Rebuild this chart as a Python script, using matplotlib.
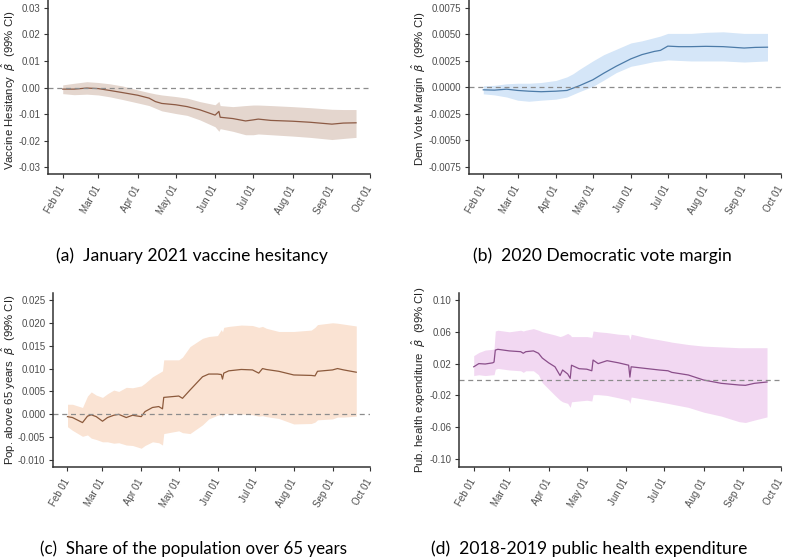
import matplotlib
matplotlib.use("Agg")
import matplotlib.pyplot as plt
import matplotlib.dates as mdates
import numpy as np

# ---- panel (a) vaccine hesitancy ----
dates_a = ["02-01", "02-10", "02-20", "03-01", "03-10", "03-20", "04-01", "04-10",
           "04-15", "04-20", "05-01", "05-10", "05-20", "06-01", "06-04", "06-05",
           "06-15", "06-25", "07-01", "07-05", "07-15", "08-01", "08-15", "09-01",
           "09-10", "09-20"]
est_a = [-0.0006, -0.0006, -0.0002, -0.0004, -0.0011, -0.0019, -0.0029, -0.0040,
         -0.0053, -0.0060, -0.0065, -0.0072, -0.0084, -0.0104, -0.0090, -0.0112,
         -0.0117, -0.0126, -0.0122, -0.0119, -0.0124, -0.0127, -0.0131, -0.0138,
         -0.0134, -0.0133]
hi_a = [0.0010, 0.0016, 0.0022, 0.0019, 0.0014, 0.0006, -0.0009, -0.0019,
        -0.0024, -0.0028, -0.0034, -0.0040, -0.0053, -0.0065, -0.0052, -0.0068,
        -0.0072, -0.0068, -0.0066, -0.0066, -0.0068, -0.0072, -0.0076, -0.0082,
        -0.0083, -0.0083]
lo_a = [-0.0023, -0.0027, -0.0025, -0.0028, -0.0035, -0.0045, -0.0058, -0.0068,
        -0.0078, -0.0088, -0.0098, -0.0105, -0.0122, -0.0148, -0.0165, -0.0155,
        -0.0165, -0.0178, -0.0178, -0.0175, -0.0178, -0.0183, -0.0188, -0.0196,
        -0.0192, -0.0188]

# ---- panel (b) democratic vote margin ----
dates_b = ["02-01", "02-10", "02-20", "03-01", "03-10", "03-20", "04-01", "04-10",
           "04-15", "04-20", "05-01", "05-10", "05-20", "06-01", "06-10", "06-20",
           "06-25", "07-01", "07-10", "07-20", "08-01", "08-15", "09-01", "09-10",
           "09-20"]
est_b = [-0.00022, -0.00025, -0.00016, -0.00028, -0.00035, -0.00040, -0.00035, -0.00028,
         -0.00006, 0.00016, 0.00072, 0.00135, 0.00200, 0.00270, 0.00310, 0.00340,
         0.00350, 0.00390, 0.00385, 0.00385, 0.00388, 0.00385, 0.00372, 0.00378,
         0.00380]
hi_b = [0.00016, 0.00020, 0.00035, 0.00040, 0.00040, 0.00047, 0.00066, 0.00100,
        0.00130, 0.00170, 0.00250, 0.00310, 0.00360, 0.00420, 0.00440, 0.00470,
        0.00485, 0.00510, 0.00510, 0.00510, 0.00520, 0.00525, 0.00510, 0.00510,
        0.00510]
lo_b = [-0.00060, -0.00070, -0.00090, -0.00120, -0.00130, -0.00120, -0.00110, -0.00090,
        -0.00065, -0.00040, 0.00010, 0.00070, 0.00140, 0.00200, 0.00220, 0.00245,
        0.00250, 0.00260, 0.00255, 0.00250, 0.00250, 0.00250, 0.00240, 0.00245,
        0.00250]

# ---- panel (c) population over 65 ----
dates_c = ["02-01", "02-05", "02-13", "02-17", "02-20", "02-24", "03-01", "03-05",
           "03-10", "03-14", "03-20", "03-25", "04-01", "04-04", "04-10", "04-15",
           "04-18", "04-19", "05-01", "05-04", "05-10", "05-20", "05-25", "06-01",
           "06-04", "06-05", "06-06", "06-10", "06-20", "06-29", "07-04", "07-07",
           "07-10", "07-20", "08-01", "08-15", "08-18", "08-20", "09-01", "09-05",
           "09-10", "09-20"]
est_c = [-0.0005, -0.0007, -0.0018, -0.0004, -0.0001, -0.0005, -0.0015, -0.0007,
         -0.0002, 0.0000, -0.0007, -0.0002, -0.0005, 0.0006, 0.0015, 0.0017,
         0.0012, 0.0037, 0.0040, 0.0035, 0.0053, 0.0082, 0.0088, 0.0088,
         0.0087, 0.0077, 0.0090, 0.0095, 0.0098, 0.0097, 0.0090, 0.0100,
         0.0098, 0.0094, 0.0086, 0.0085, 0.0084, 0.0094, 0.0097, 0.0100,
         0.0097, 0.0092]
hi_c = [0.0022, 0.0022, 0.0015, 0.0040, 0.0049, 0.0042, 0.0037, 0.0045,
        0.0053, 0.0050, 0.0059, 0.0058, 0.0062, 0.0068, 0.0082, 0.0090,
        0.0095, 0.0119, 0.0119, 0.0125, 0.0148, 0.0166, 0.0170, 0.0172,
        0.0185, 0.0180, 0.0190, 0.0192, 0.0195, 0.0194, 0.0190, 0.0192,
        0.0188, 0.0181, 0.0181, 0.0184, 0.0190, 0.0196, 0.0200, 0.0199,
        0.0197, 0.0193]
lo_c = [-0.0027, -0.0035, -0.0048, -0.0045, -0.0052, -0.0055, -0.0060, -0.0060,
        -0.0063, -0.0062, -0.0067, -0.0068, -0.0074, -0.0068, -0.0060, -0.0062,
        -0.0067, -0.0042, -0.0036, -0.0040, -0.0042, -0.0023, -0.0010, -0.0002,
        0.0000, -0.0005, 0.0002, 0.0002, 0.0001, -0.0001, -0.0004, -0.0003,
        -0.0005, -0.0009, -0.0021, -0.0020, -0.0017, -0.0012, -0.0010, -0.0006,
        -0.0006, -0.0004]

# ---- panel (d) public health expenditure ----
dates_d = ["02-01", "02-05", "02-10", "02-16", "02-17", "02-18", "02-20", "03-01",
           "03-10", "03-12", "03-14", "03-20", "03-24", "03-27", "04-01", "04-06",
           "04-10", "04-12", "04-16", "04-18", "04-19", "04-25", "05-01", "05-05",
           "05-06", "05-10", "05-17", "05-26", "06-03", "06-04", "06-05", "06-16",
           "06-27", "07-04", "07-07", "07-20", "08-01", "08-15", "08-29", "09-03",
           "09-10", "09-20"]
est_d = [0.016, 0.020, 0.0195, 0.021, 0.022, 0.037, 0.038, 0.036,
         0.035, 0.033, 0.035, 0.036, 0.033, 0.027, 0.021, 0.016,
         0.005, 0.012, 0.007, 0.0015, 0.018, 0.0136, 0.013, 0.011,
         0.0245, 0.020, 0.0237, 0.021, 0.018, 0.003, 0.016, 0.014,
         0.012, 0.011, 0.009, 0.0057, -0.0006, -0.0048, -0.0069, -0.0073,
         -0.0048, -0.0031]
hi_d = [0.030, 0.034, 0.037, 0.038, 0.039, 0.061, 0.062, 0.060,
        0.062, 0.061, 0.062, 0.064, 0.062, 0.060, 0.058, 0.056,
        0.054, 0.055, 0.058, 0.056, 0.054, 0.054, 0.054, 0.053,
        0.061, 0.060, 0.059, 0.057, 0.056, 0.050, 0.057, 0.053,
        0.050, 0.048, 0.047, 0.044, 0.042, 0.041, 0.040, 0.040,
        0.040, 0.040]
lo_d = [0.005, 0.006, 0.005, 0.006, 0.006, 0.013, 0.014, 0.012,
        0.011, 0.009, 0.011, 0.011, 0.006, -0.004, -0.012, -0.020,
        -0.026, -0.028, -0.030, -0.035, -0.028, -0.027, -0.026, -0.027,
        -0.019, -0.019, -0.020, -0.023, -0.026, -0.030, -0.022, -0.025,
        -0.028, -0.030, -0.031, -0.035, -0.041, -0.046, -0.053, -0.054,
        -0.051, -0.047]

panels = [
    dict(dates=dates_a, est=est_a, hi=hi_a, lo=lo_a,
         ylabel="Vaccine Hesitancy", band="#E4D6CE", line="#8C5A44",
         yticks=[-0.03, -0.02, -0.01, 0.0, 0.01, 0.02, 0.03], fmt="{:.2f}",
         ylim=(-0.0326, 0.033),
         rect=(48, 0, 370, 174), lab=(8.5, 90),
         caption="(a)  January 2021 vaccine hesitancy", cap=(192, 256), cap_size=12.6),
    dict(dates=dates_b, est=est_b, hi=hi_b, lo=lo_b,
         ylabel="Dem Vote Margin", band="#D5E6F8", line="#4C7BA8",
         yticks=[-0.0075, -0.005, -0.0025, 0.0, 0.0025, 0.005, 0.0075], fmt="{:.4f}",
         ylim=(-0.00816, 0.00825),
         rect=(469, 0, 781, 174), lab=(418.5, 89),
         caption="(b)  2020 Democratic vote margin", cap=(602, 256), cap_size=12.6),
    dict(dates=dates_c, est=est_c, hi=hi_c, lo=lo_c,
         ylabel="Pop. above 65 years", band="#FAE3D3", line="#8C5A3C",
         yticks=[-0.010, -0.005, 0.0, 0.005, 0.010, 0.015, 0.020, 0.025], fmt="{:.3f}",
         ylim=(-0.0115, 0.0265),
         rect=(53, 293, 370, 467), lab=(9, 380),
         caption="(c)  Share of the population over 65 years", cap=(193, 549), cap_size=12.2),
    dict(dates=dates_d, est=est_d, hi=hi_d, lo=lo_d,
         ylabel="Pub. health expenditure", band="#F2D8F2", line="#8A4E8A",
         yticks=[-0.10, -0.06, -0.02, 0.02, 0.06, 0.10], fmt="{:.2f}",
         ylim=(-0.110, 0.1088),
         rect=(459, 293, 781, 467), lab=(418.5, 380),
         caption="(d)  2018-2019 public health expenditure", cap=(589, 549), cap_size=12.6),
]

month_ticks = ["2021-02-01", "2021-03-01", "2021-04-01", "2021-05-01", "2021-06-01",
               "2021-07-01", "2021-08-01", "2021-09-01", "2021-10-01"]

W, H = 787, 558
fig = plt.figure(figsize=(W / 100, H / 100), dpi=100)
fig.patch.set_facecolor("white")

tick_col = "#4D4D4D"
spine_col = "#333333"

for p in panels:
    x0, y0, x1, y1 = p["rect"]
    ax = fig.add_axes([x0 / W, 1 - y1 / H, (x1 - x0) / W, (y1 - y0) / H])
    d = np.array(["2021-" + s for s in p["dates"]], dtype="datetime64[D]")
    ax.fill_between(d, p["lo"], p["hi"], color=p["band"], lw=0)
    ax.plot(d, p["est"], color=p["line"], lw=0.9)
    ax.axhline(0, color="#8C8C8C", lw=0.9, ls=(0, (4, 3)))

    ticks = np.array(month_ticks, dtype="datetime64[D]")
    left = mdates.date2num(ticks[0]) - 11.6
    ax.set_xlim(left, mdates.date2num(ticks[-1]))
    ax.set_xticks(mdates.date2num(ticks))
    ax.xaxis.set_major_formatter(mdates.DateFormatter("%b %d"))
    ax.set_ylim(*p["ylim"])
    ax.set_yticks(p["yticks"])
    ax.set_yticklabels([p["fmt"].format(v) for v in p["yticks"]])

    for s in ["top", "right"]:
        ax.spines[s].set_visible(False)
    for s in ["left", "bottom"]:
        ax.spines[s].set_color(spine_col)
        ax.spines[s].set_linewidth(1.1)
    ax.tick_params(axis="both", colors=spine_col, length=3, width=0.8,
                   labelsize=7, labelcolor=tick_col)
    ax.tick_params(axis="y", pad=2.5)
    ax.tick_params(axis="x", pad=6)
    for lab in ax.get_xticklabels():
        lab.set_rotation(60)
        lab.set_ha("right")
        lab.set_va("center")
        lab.set_rotation_mode("anchor")
        lab.set_family("Liberation Sans")
    for lab in ax.get_yticklabels():
        lab.set_family("Liberation Sans")

    fig.text(p["lab"][0] / W, 1 - p["lab"][1] / H,
             p["ylabel"] + r"  $\hat{\beta}$  (99% CI)",
             rotation=90, ha="center", va="center", fontsize=8.2,
             color="#222222", family="Liberation Sans")
    fig.text(p["cap"][0] / W, 1 - p["cap"][1] / H, p["caption"],
             ha="center", va="center", fontsize=p["cap_size"], color="black",
             family="Lato")

fig.savefig("out.png", dpi=100)
